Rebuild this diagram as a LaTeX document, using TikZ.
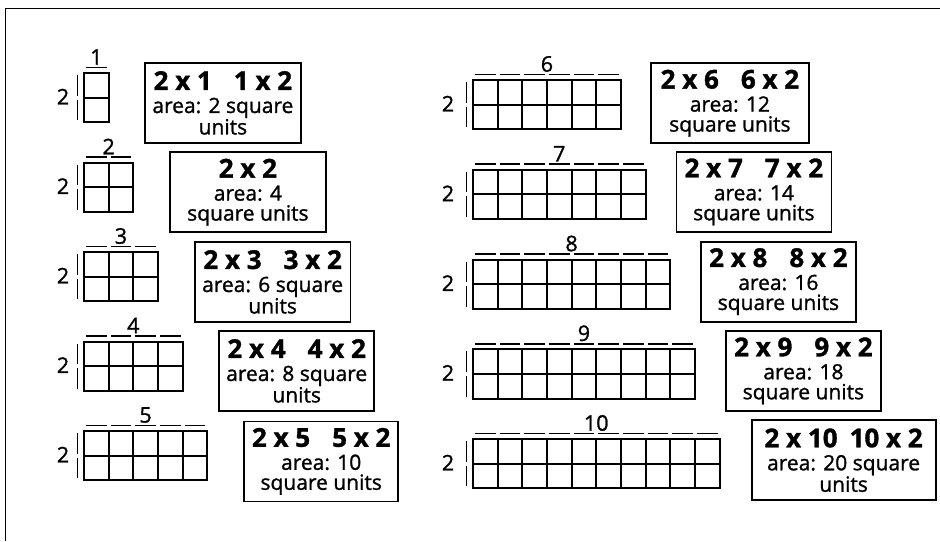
\documentclass[tikz,border=0pt]{standalone}
\usepackage{fontspec}
\setmainfont{Open Sans}
\newfontfamily\medfont{Open Sans}[FakeBold=1.2]
\def\cs{24.65}
\newcommand\dimgrid[4]{% #1 x0, #2 y0, #3 n, #4 side-label offset
  \pgfmathsetmacro\gw{#3*\cs}
  \draw[gridline] (#1,#2) rectangle ++(\gw,2*\cs);
  \draw[gridline] (#1,#2+\cs) -- ++(\gw,0);
  \ifnum#3>1
    \foreach \k in {1,...,\numexpr#3-1\relax}
      \draw[gridline] (#1+\k*\cs,#2) -- ++(0,2*\cs);
  \fi
  \foreach \k in {1,...,#3}
    \draw[tick] (#1+\k*\cs-\cs+2,#2-5.5) -- ++(\cs-4,0);
  \draw[tick] (#1-6.5,#2+2) -- ++(0,\cs-4);
  \draw[tick] (#1-6.5,#2+\cs+2) -- ++(0,\cs-4);
  \node[dimlabel] (top#3) at (#1+\gw/2,#2-16) {#3};
  \node[dimlabel] (side#3) at (#1-#4,#2+\cs-1) {2};
}
\newcommand\hd[1]{{\fontsize{26}{26}\selectfont\bfseries #1}\\[3pt]}
\begin{document}
\begin{tikzpicture}[x=1pt,y=-1pt,
  gridline/.style={line width=2pt},
  tick/.style={line width=1.7pt},
  dimlabel/.style={font=\medfont\fontsize{21.5}{20}\selectfont, inner sep=0pt},
  infobox/.style={draw, line width=1.8pt, align=center, inner sep=0pt,
    minimum height=80pt, anchor=north west, font=\medfont\fontsize{21}{20}\selectfont}
]
\useasboundingbox (0,0) rectangle (940,541);
\draw[line width=1pt] (5,541) -- (5,8) -- (940,8);

\dimgrid{84}{73}{1}{21}
\dimgrid{84}{162.5}{2}{21}
\dimgrid{84}{252}{3}{21}
\dimgrid{84}{341.5}{4}{21}
\dimgrid{84}{431}{5}{21}
\dimgrid{473}{80}{6}{25}
\dimgrid{473}{169.75}{7}{25}
\dimgrid{473}{259.5}{8}{25}
\dimgrid{473}{349.25}{9}{25}
\dimgrid{473}{439}{10}{25}

\node[infobox, minimum width=156pt] (b1) at (144,62)
  {\hd{2 x 1\hspace{22pt}1 x 2}area: 2 square\\units};
\node[infobox, minimum width=156pt] (b2) at (169,151.3)
  {\hd{2 x 2}area: 4\\square units};
\node[infobox, minimum width=155.5pt] (b3) at (194,241)
  {\hd{2 x 3\hspace{22pt}3 x 2}area: 6 square\\units};
\node[infobox, minimum width=155pt] (b4) at (218.3,330)
  {\hd{2 x 4\hspace{22pt}4 x 2}area: 8 square\\units};
\node[infobox, minimum width=154pt] (b5) at (243.3,420.5)
  {\hd{2 x 5\hspace{22pt}5 x 2}area: 10\\square units};
\node[infobox, minimum width=158pt] (b6) at (650,62.3)
  {\hd{2 x 6\hspace{22pt}6 x 2}area: 12\\square units};
\node[infobox, minimum width=155pt] (b7) at (675.5,151)
  {\hd{2 x 7\hspace{22pt}7 x 2}area: 14\\square units};
\node[infobox, minimum width=155pt] (b8) at (700,240.7)
  {\hd{2 x 8\hspace{22pt}8 x 2}area: 16\\square units};
\node[infobox, minimum width=155pt] (b9) at (725,330)
  {\hd{2 x 9\hspace{22pt}9 x 2}area: 18\\square units};
\node[infobox, minimum width=184pt] (b10) at (750.7,419.3)
  {\hd{2 x 10\hspace{12pt}10 x 2}area: 20 square\\units};
\end{tikzpicture}
\end{document}
